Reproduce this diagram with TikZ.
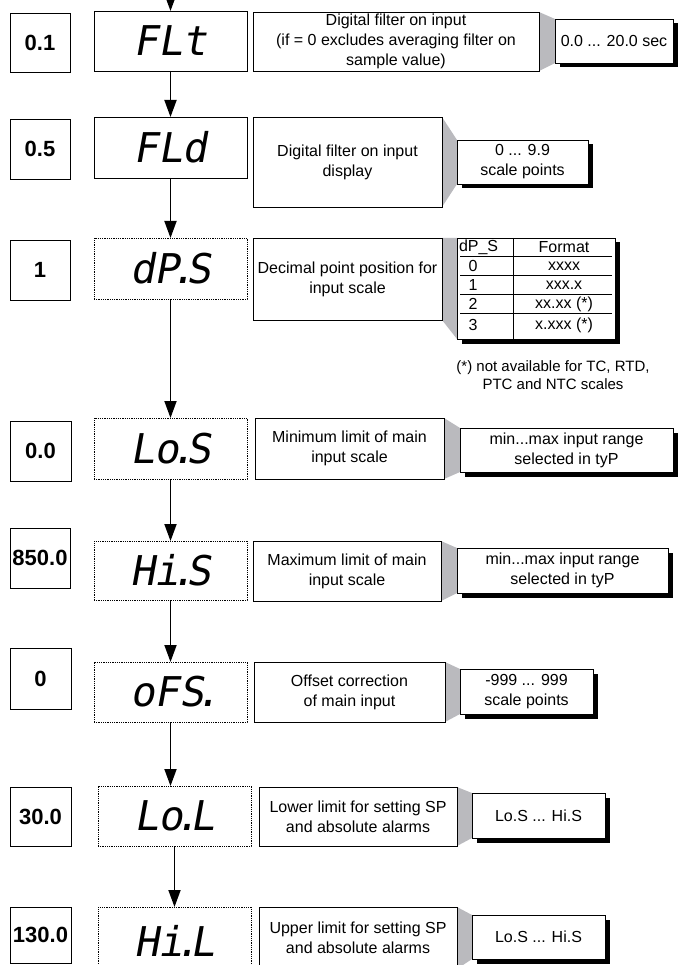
\documentclass[tikz,border=0pt]{standalone}
\usepackage{fontspec}
\setmainfont{Liberation Sans}
\newfontfamily\segfont[FakeSlant=0.18]{DejaVu Sans Mono}
\usetikzlibrary{arrows.meta,shadows,backgrounds}
\definecolor{trapgray}{RGB}{186,186,190}
\newcommand\sdot{\kern-0.22em.\kern-0.22em}
\newcommand\bx[7]{\node[#2, minimum width={(#5-#3)*1pt}, minimum height={(#6-#4)*1pt}] (#1) at ({(#3+#5)/2},{(#4+#6)/2}) {#7};}
\tikzset{
 every node/.style={inner sep=0pt, outer sep=0pt},
 valbox/.style={draw, line width=0.8pt, fill=white, font=\fontsize{22}{26}\selectfont\bfseries},
 dispbox/.style={draw, line width=0.8pt, fill=white, font=\segfont\fontsize{41}{41}\selectfont},
 dotbox/.style={dispbox, dash pattern=on 1pt off 0.8pt},
 descbox/.style={draw, line width=0.8pt, fill=white, align=center, font=\fontsize{16}{20}\selectfont},
 rangebox/.style={descbox, drop shadow={fill=black, opacity=1, shadow xshift=4.5pt, shadow yshift=-4.5pt}},
 arr/.style={line width=1.8pt, -{Triangle[width=12pt,length=17pt]}},
 trap/.style={fill=trapgray},
 tabtext/.style={font=\fontsize{16}{20}\selectfont},
 tabline/.style={line width=0.8pt},
}
\begin{document}
\begin{tikzpicture}[x=1pt,y=-1pt]
\useasboundingbox (0,0) rectangle (690,965);
\clip (0,0) rectangle (690,965);
% row 1
\bx{v1}{valbox}{10}{13}{70}{72}{0.1}
\bx{d1}{dispbox}{94}{11}{247}{71}{FLt}
\bx{t1}{descbox}{253}{12}{539}{71}{Digital filter on input\\(if = 0 excludes averaging filter on\\sample value)}
\bx{r1}{rangebox}{555}{19}{673}{63}{0.0 ... 20.0 sec}
% row 2
\bx{v2}{valbox}{10}{119}{70}{179}{0.5}
\bx{d2}{dispbox}{94}{117}{247}{178}{FLd}
\bx{t2}{descbox}{253}{117}{442}{207}{Digital filter on input\\display}
\bx{r2}{rangebox}{457}{140}{588}{184}{0 ... 9.9\\scale points}
% row 3
\bx{v3}{valbox}{10}{240}{70}{300}{1}
\bx{d3}{dotbox}{94}{238}{247}{299}{dP\sdot S}
\bx{t3}{descbox}{253}{238}{442}{320}{\raisebox{-4pt}{\begin{tabular}{@{}c@{}}Decimal point position for\\input scale\end{tabular}}}
\bx{tb}{rangebox}{457}{238}{615}{339}{}
\draw[tabline] (513,238) -- (513,339);
\foreach \yy in {256,275,294,313} \draw[tabline] (460,\yy) -- (612,\yy);
\node[tabtext, anchor=west] (h1) at (459,247) {dP\_S};
\node[tabtext] (h2) at (564,247) {Format};
\node[tabtext] (a0) at (473,266) {0};
\node[tabtext] (b0) at (564,266) {xxxx};
\node[tabtext] (a1) at (473,285) {1};
\node[tabtext] (b1) at (564,285) {xxx.x};
\node[tabtext] (a2) at (473,304) {2};
\node[tabtext] (b2) at (564,304) {xx.xx (*)};
\node[tabtext] (a3) at (473,325) {3};
\node[tabtext] (b3) at (564,325) {x.xxx (*)};
\node[align=center, font=\fontsize{15}{18}\selectfont] (fn) at (553,375) {(*) not available for TC, RTD,\\PTC and NTC scales};
% row 4
\bx{v4}{valbox}{10}{421}{71}{481}{0.0}
\bx{d4}{dotbox}{94}{418}{247}{479}{Lo\sdot S}
\bx{t4}{descbox}{255}{418}{444}{479}{Minimum limit of main\\input scale}
\bx{r4}{rangebox}{460}{428}{673}{472}{min...max input range\\selected in tyP}
% row 5
\bx{v5}{valbox}{10}{528}{70}{588}{850.0}
\bx{d5}{dotbox}{94}{541}{247}{600}{Hi\sdot S}
\bx{t5}{descbox}{253}{541}{441}{601}{Maximum limit of main\\input scale}
\bx{r5}{rangebox}{457}{548}{668}{593}{min...max input range\\selected in tyP}
% row 6
\bx{v6}{valbox}{10}{648}{71}{709}{0}
\bx{d6}{dotbox}{94}{662}{247}{722}{oFS\sdot}
\bx{t6}{descbox}{254}{662}{445}{722}{Offset correction\\of main input}
\bx{r6}{rangebox}{460}{669}{593}{714}{-999 ... 999\\scale points}
% row 7
\bx{v7}{valbox}{10}{787}{71}{846}{30.0}
\bx{d7}{dotbox}{98}{786}{251}{846}{Lo\sdot L}
\bx{t7}{descbox}{259}{787}{457}{846}{Lower limit for setting SP\\and absolute alarms}
\bx{r7}{rangebox}{472}{793}{605}{838}{Lo.S ... Hi.S}
% row 8
\bx{v8}{valbox}{10}{907}{71}{963}{130.0}
\bx{d8}{dotbox}{98}{907}{251}{975}{Hi\sdot L}
\bx{t8}{descbox}{259}{907}{457}{969}{Upper limit for setting SP\\and absolute alarms}
\bx{r8}{rangebox}{472}{915}{605}{959}{Lo.S ... Hi.S}
% connectors between description and range
\begin{pgfonlayer}{background}
\foreach \a/\b in {t1/r1,t2/r2,t3/tb,t4/r4,t5/r5,t6/r6,t7/r7,t8/r8}
  \fill[trap] (\a.north east) -- (\b.north west) -- (\b.south west) -- (\a.south east) -- cycle;
\end{pgfonlayer}
% arrows
\coordinate (top) at (170.5,-15);
\draw[arr] (top) -- (d1.north);
\draw[arr] (d1.south) -- (d2.north);
\draw[arr] (d2.south) -- (d3.north);
\draw[arr] (d3.south) -- (d4.north);
\draw[arr] (d4.south) -- (d5.north);
\draw[arr] (d5.south) -- (d6.north);
\draw[arr] (d6.south) -- (d6.south |- d7.north);
\draw[arr] (d7.south) -- (d8.north);
\end{tikzpicture}
\end{document}
